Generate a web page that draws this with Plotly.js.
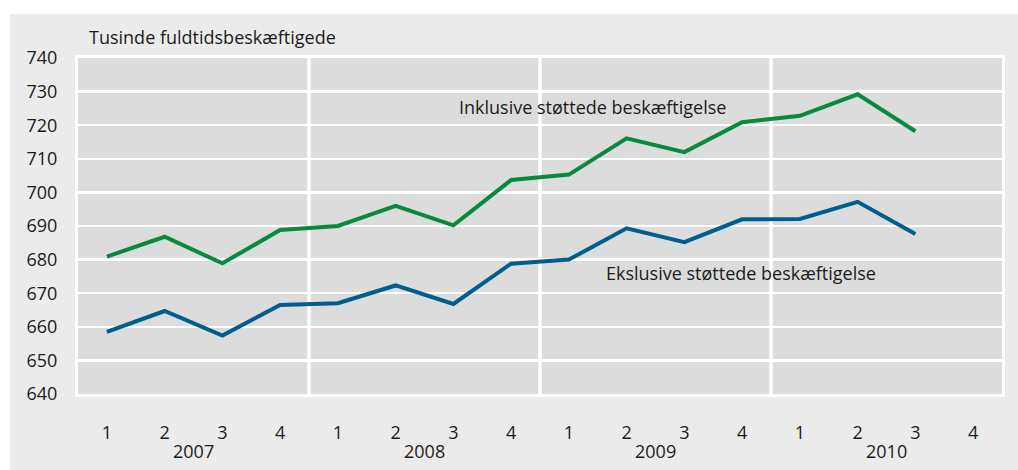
<!DOCTYPE html>
<html>
<head>
<meta charset="utf-8">
<script src="https://cdn.plot.ly/plotly-3.0.1.min.js"></script>
<style>html,body{margin:0;padding:0;background:#fff;}#chart{width:1018px;height:470px;}</style>
</head>
<body>
<div id="chart"></div>
<script>
// Data
var quarterLabels = ["1","2","3","4","1","2","3","4","1","2","3","4","1","2","3","4"];
var years = ["2007","2008","2009","2010"];
var inklusive = [680.9, 686.8, 678.9, 688.8, 690.0, 696.0, 690.2, 703.7, 705.3, 716.1, 712.0, 720.9, 722.8, 729.2, 718.2];
var ekslusive = [658.5, 664.7, 657.4, 666.5, 667.0, 672.3, 666.8, 678.8, 680.0, 689.3, 685.2, 692.0, 692.1, 697.2, 687.6];
var labelInkl = "Inklusive støttede beskæftigelse";
var labelEksl = "Ekslusive støttede beskæftigelse";
var yTitle = "Tusinde fuldtidsbeskæftigede";

var idx = quarterLabels.map(function(_, i){ return i; });
var xData = inklusive.map(function(_, i){ return i; });

var font = {family: "Open Sans, sans-serif", size: 18, color: "#1b1b1b"};

var traces = [
  {x: xData, y: inklusive, type: "scatter", mode: "lines", line: {color: "#078a3f", width: 4}, hoverinfo: "skip"},
  {x: xData, y: ekslusive, type: "scatter", mode: "lines", line: {color: "#005e8e", width: 4}, hoverinfo: "skip"}
];

var shapes = [];
// year separators
for (var k = 1; k < years.length; k++) {
  shapes.push({type: "line", xref: "x", yref: "paper", x0: 4*k - 0.5, x1: 4*k - 0.5, y0: 0, y1: 1,
               line: {color: "#ffffff", width: 3.5}, layer: "below"});
}
// white margins top and left (outside the grey panel)
shapes.push({type: "rect", xref: "paper", yref: "paper", x0: -0.0844, x1: 1.02, y0: 1.131, y1: 1.18,
             fillcolor: "#ffffff", line: {width: 0}, layer: "below"});
shapes.push({type: "rect", xref: "paper", yref: "paper", x0: -0.09, x1: -0.0736, y0: -0.23, y1: 1.18,
             fillcolor: "#ffffff", line: {width: 0}, layer: "below"});

var annotations = [
  {text: yTitle, xref: "paper", yref: "paper", x: 0.0097, y: 1, xanchor: "left", yanchor: "middle", yshift: 21,
   showarrow: false, font: font},
  {text: labelInkl, xref: "x", yref: "y", x: 6.06, y: 725.4, xanchor: "left", yanchor: "middle", showarrow: false, font: font},
  {text: labelEksl, xref: "x", yref: "y", x: 8.61, y: 676.1, xanchor: "left", yanchor: "middle", showarrow: false, font: font}
];
years.forEach(function(yr, j){
  annotations.push({text: yr, xref: "x", yref: "paper", x: 4*j + 1.5, y: 0, yanchor: "middle", yshift: -57,
                    showarrow: false, font: font});
});

var layout = {
  width: 1018, height: 470,
  margin: {l: 78, r: 16, t: 58, b: 76},
  paper_bgcolor: "#ebebeb",
  plot_bgcolor: "#dcdcdc",
  showlegend: false,
  font: font,
  xaxis: {
    range: [-0.5, 15.5], tickmode: "array", tickvals: idx, ticktext: quarterLabels,
    showgrid: false, zeroline: false, showline: true, mirror: true, linecolor: "#ffffff", linewidth: 3,
    ticks: "outside", ticklen: 20, tickcolor: "rgba(0,0,0,0)", tickfont: font, fixedrange: true
  },
  yaxis: {
    range: [640, 740], dtick: 10, tick0: 640,
    showgrid: true, gridcolor: "#ffffff", gridwidth: 2.5, zeroline: false,
    showline: true, mirror: true, linecolor: "#ffffff", linewidth: 3,
    ticks: "outside", ticklen: 14, tickcolor: "rgba(0,0,0,0)", tickfont: font, fixedrange: true
  },
  shapes: shapes,
  annotations: annotations
};

Plotly.newPlot("chart", traces, layout, {displayModeBar: false, staticPlot: true});
</script>
</body>
</html>
